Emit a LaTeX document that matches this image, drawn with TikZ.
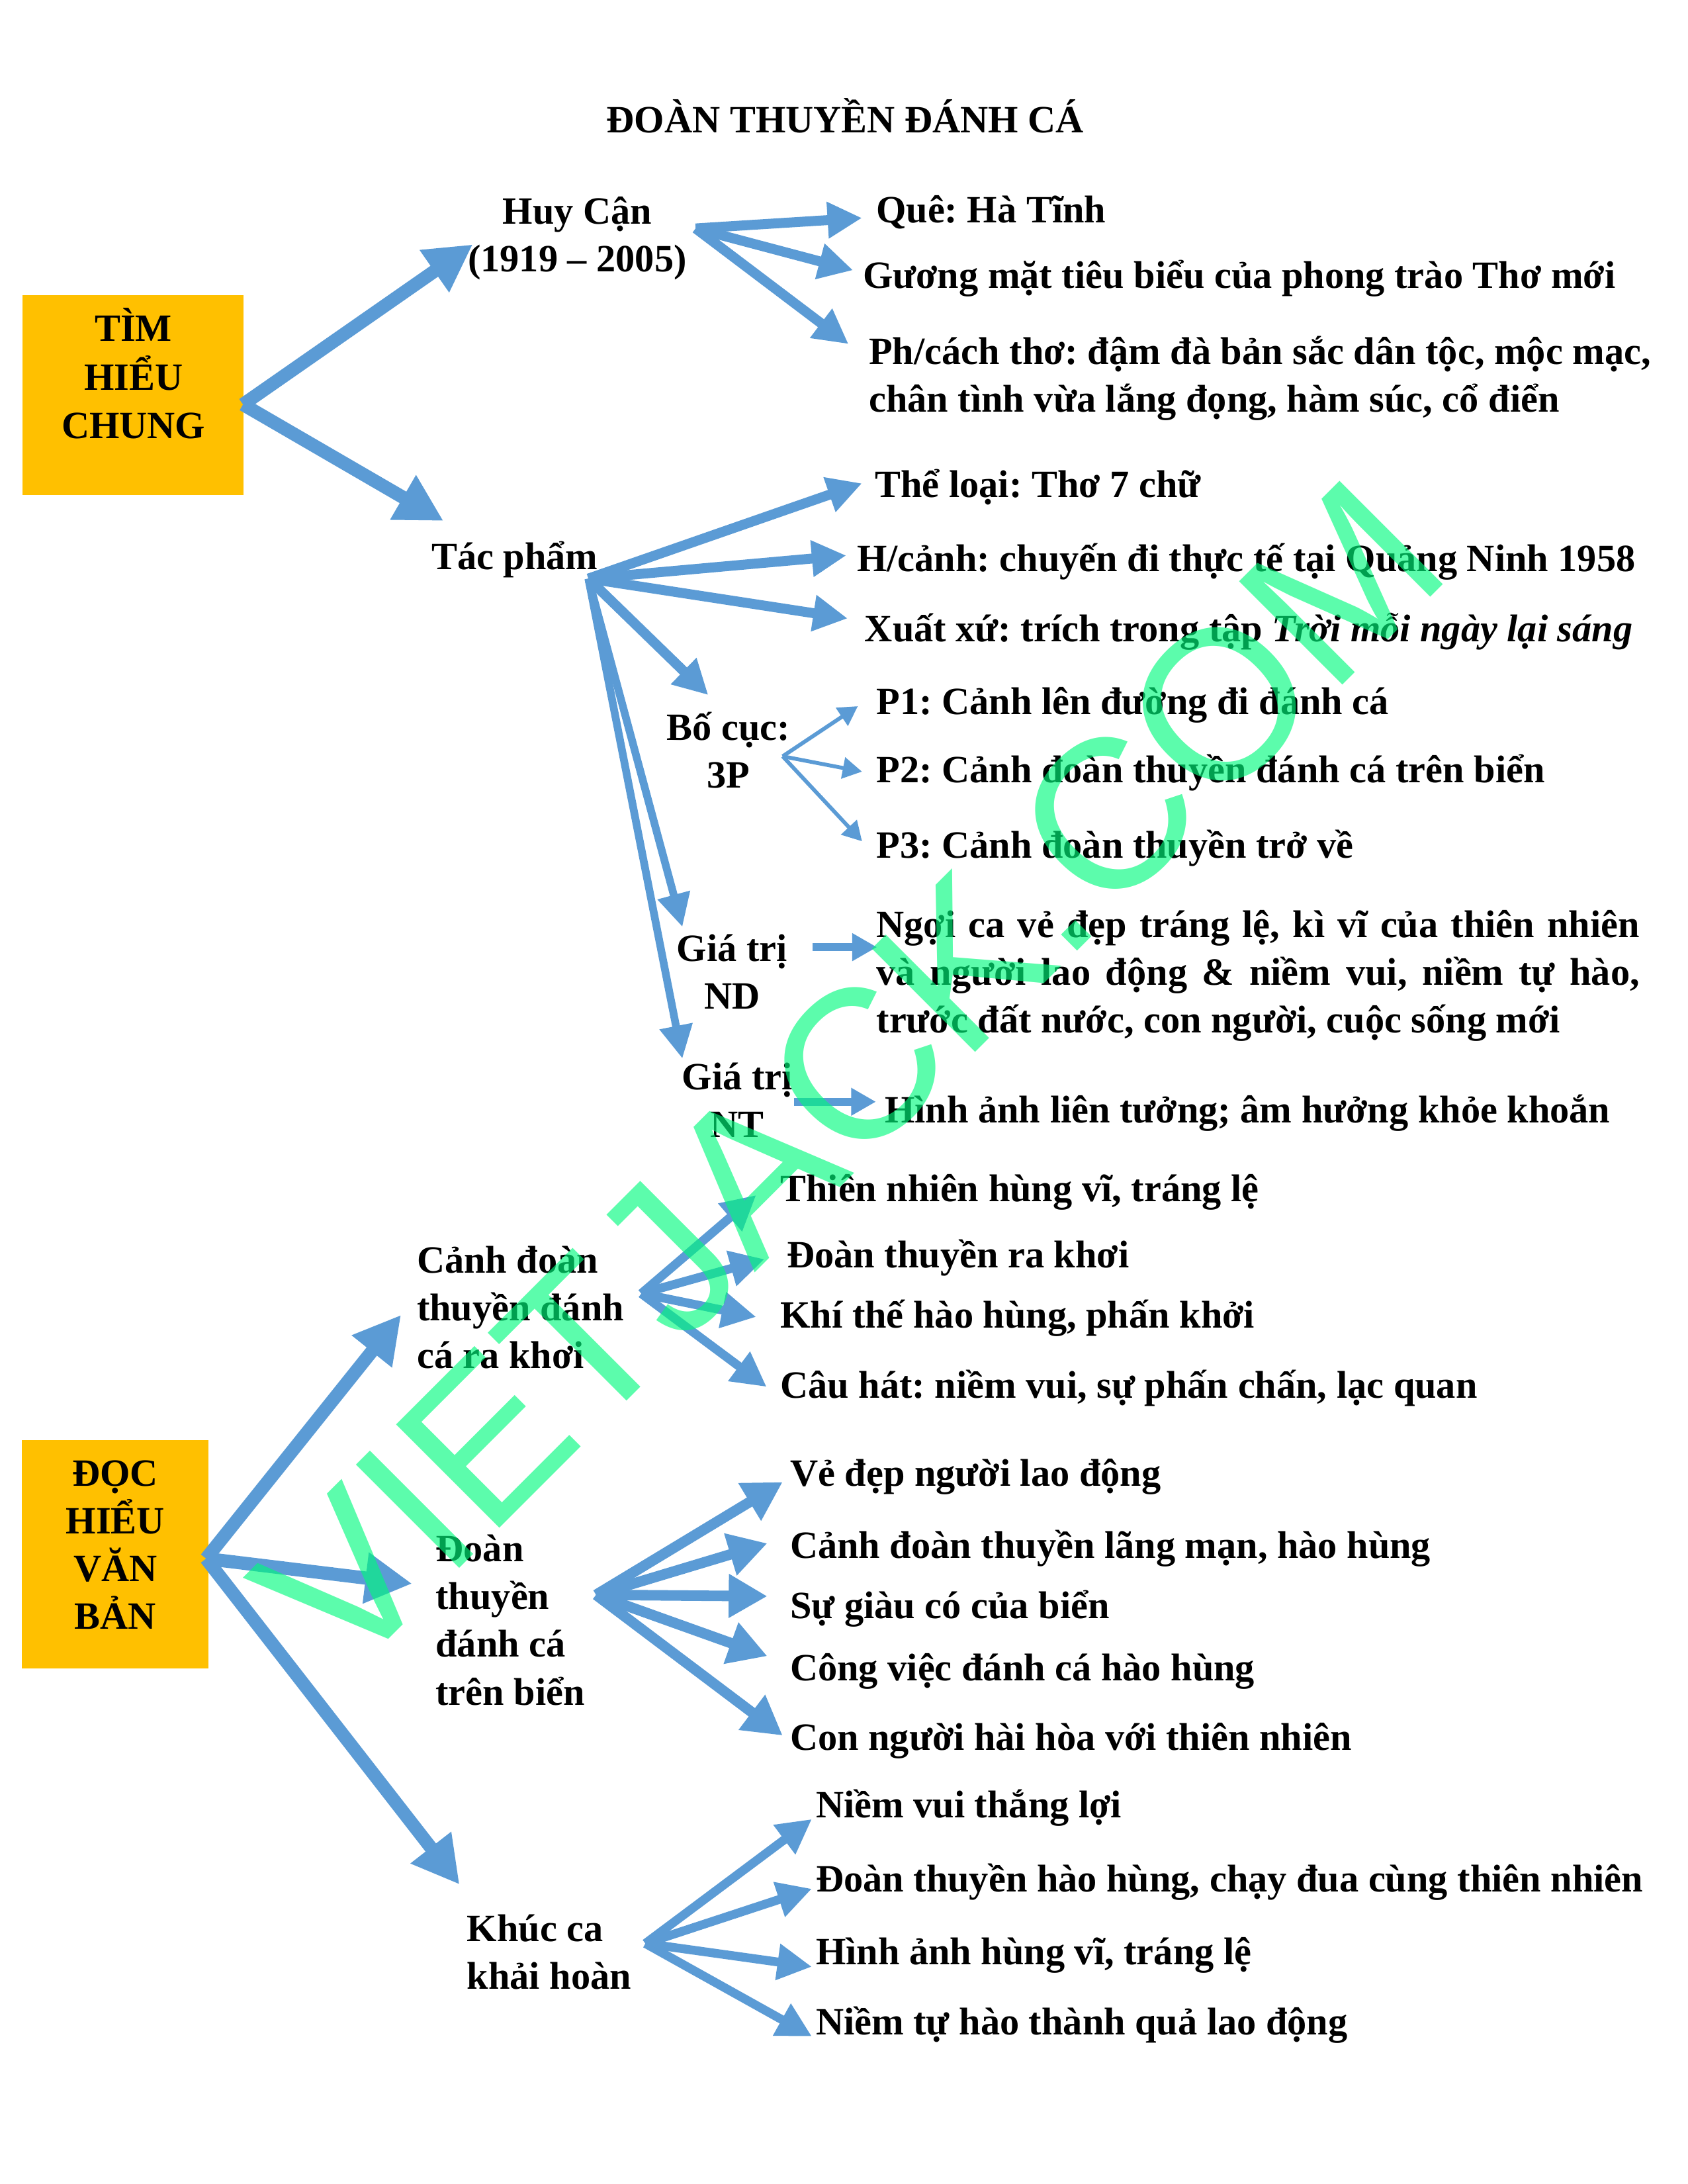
\documentclass[tikz,border=0pt]{standalone}
\usepackage{fontspec}
\setmainfont{Liberation Serif}
\newfontfamily\wmfont{Liberation Sans}
\usetikzlibrary{arrows.meta}
\definecolor{arrblue}{RGB}{91,155,213}
\definecolor{boxyel}{RGB}{255,192,0}
\definecolor{wmgreen}{RGB}{0,250,125}
\frenchspacing
\tikzset{
  txt/.style={font=\fontsize{14}{17.3}\selectfont\bfseries\frenchspacing, inner sep=0pt, anchor=base west, align=left},
  ctxt/.style={font=\fontsize{14}{17.3}\selectfont\bfseries\frenchspacing, inner sep=0pt, anchor=base, align=center},
  ybox/.style={fill=boxyel, draw=none, inner sep=0pt},
  arrA/.style={draw=arrblue, line width=4.8pt, -{Triangle[length=17pt,width=17.5pt]}},
  arrB/.style={draw=arrblue, line width=3.6pt, -{Triangle[length=12.5pt,width=12.5pt]}},
  arrDT/.style={draw=arrblue, line width=3.8pt, -{Triangle[length=14pt,width=15pt]}},
  arrC/.style={draw=arrblue, line width=3.2pt, -{Triangle[length=12.5pt,width=12.5pt]}},
  arrD/.style={draw=arrblue, line width=2.8pt, -{Triangle[length=12pt,width=11.5pt]}},
  arrE/.style={draw=arrblue, line width=2.8pt, -{Triangle[length=9pt,width=9.5pt]}},
  arrF/.style={draw=arrblue, line width=1.4pt, -{Triangle[length=7pt,width=7.6pt]}},
}
\begin{document}
\begin{tikzpicture}[x=0.50495pt, y=-0.50495pt]
\useasboundingbox (0,0) rectangle (1212,1568);

% title
\node[ctxt] (title) at (607,95.2) {ĐOÀN THUYỀN ĐÁNH CÁ};

% boxes
\node[ybox, minimum width=80.3pt, minimum height=72.5pt] (box1) at (95.5,283.8) {};
\node[ctxt, font=\fontsize{14}{17.6}\selectfont\bfseries] (box1t) at (95.8,314.8) {TÌM\\HIỂU\\CHUNG};
\node[ybox, minimum width=67.7pt, minimum height=82.9pt] (box2) at (82.75,1115.9) {};
\node[ctxt] (box2t) at (82.8,1169.7) {ĐỌC\\HIỂU\\VĂN\\BẢN};

% first section texts
\node[ctxt] (hc) at (414.5,195) {Huy Cận\\(1919 – 2005)};
\node[txt] (que) at (628.8,160) {Quê: Hà Tĩnh};
\node[txt] (guong) at (619.3,206.8) {Gương mặt tiêu biểu của phong trào Thơ mới};
\node[txt] (phc) at (623.6,296) {Ph/cách thơ: đậm đà bản sắc dân tộc, mộc mạc,\\chân tình vừa lắng đọng, hàm súc, cổ điển};
\node[txt] (tp) at (309.5,408.8) {Tác phẩm};
\node[txt] (tl) at (628,357) {Thể loại: Thơ 7 chữ};
\node[txt] (hcanh) at (615,410.5) {H/cảnh: chuyến đi thực tế tại Quảng Ninh 1958};
\node[txt] (xx) at (620.6,460.6) {Xuất xứ: trích trong tập \textit{Trời mỗi ngày lại sáng}};
\node[ctxt] (bc) at (523,565.6) {Bố cục:\\3P};
\node[txt] (p1) at (629,513) {P1: Cảnh lên đường đi đánh cá};
\node[txt] (p2) at (629,562) {P2: Cảnh đoàn thuyền đánh cá trên biển};
\node[txt] (p3) at (629,616) {P3: Cảnh đoàn thuyền trở về};
\node[ctxt] (gnd) at (525.7,724.4) {Giá trị\\ND};
\node[txt] (ndt) at (629,741.5) {\makebox[276.7pt][s]{Ngợi ca vẻ đẹp tráng lệ, kì vĩ của thiên nhiên}\\\makebox[276.7pt][s]{và người lao động \& niềm vui, niềm tự hào,}\\trước đất nước, con người, cuộc sống mới};
\node[ctxt] (gnt) at (529.5,816.5) {Giá trị\\NT};
\node[txt] (ntt) at (635,806) {Hình ảnh liên tưởng; âm hưởng khỏe khoắn};

% second section texts
\node[txt] (cd) at (299,982.3) {Cảnh đoàn\\thuyền đánh\\cá ra khơi};
\node[txt] (cd1) at (560,862.5) {Thiên nhiên hùng vĩ, tráng lệ};
\node[txt] (cd2) at (564.7,910) {Đoàn thuyền ra khơi};
\node[txt] (cd3) at (560,953.5) {Khí thế hào hùng, phấn khởi};
\node[txt] (cd4) at (560,1003.6) {Câu hát: niềm vui, sự phấn chấn, lạc quan};
\node[txt] (dt) at (312.5,1224) {Đoàn\\thuyền\\đánh cá\\trên biển};
\node[txt] (dt1) at (567,1067) {Vẻ đẹp người lao động};
\node[txt] (dt2) at (567,1118.8) {Cảnh đoàn thuyền lãng mạn, hào hùng};
\node[txt] (dt3) at (567,1162) {Sự giàu có của biển};
\node[txt] (dt4) at (567,1206.7) {Công việc đánh cá hào hùng};
\node[txt] (dt5) at (567,1256.7) {Con người hài hòa với thiên nhiên};
\node[txt] (kc) at (335,1428) {Khúc ca\\khải hoàn};
\node[txt] (kc1) at (585.5,1305) {Niềm vui thắng lợi};
\node[txt] (kc2) at (585.5,1358) {Đoàn thuyền hào hùng, chạy đua cùng thiên nhiên};
\node[txt] (kc3) at (585.5,1410.7) {Hình ảnh hùng vĩ, tráng lệ};
\node[txt] (kc4) at (585.5,1460.8) {Niềm tự hào thành quả lao động};

% connector end points
\coordinate (o1) at (174.5,290.4);
\coordinate (t-hc) at (339.5,175.5);
\coordinate (t-tp) at (318.5,374);
\coordinate (o-hc) at (499.5,164);
\coordinate (t-que) at (619,156.5);
\coordinate (t-guong) at (612.6,194);
\coordinate (t-phc) at (609.3,247);
\coordinate (o-tp) at (422.5,415.4);
\coordinate (t-tl) at (619,347);
\coordinate (t-hcanh) at (607.7,398.8);
\coordinate (t-xx) at (608.7,444);
\coordinate (t-bc) at (508.6,499);
\coordinate (t-gnd) at (490,665.5);
\coordinate (t-gnt) at (490,760);
\coordinate (o-bc) at (562,543);
\coordinate (t-p1) at (616,507);
\coordinate (t-p2) at (619,554);
\coordinate (t-p3) at (619,604);
\coordinate (o-nd) at (583.6,680);
\coordinate (t-nd) at (629.8,680);
\coordinate (o-nt) at (570,791);
\coordinate (t-nt) at (629,791);
\coordinate (o2) at (148,1119);
\coordinate (t-cd) at (288,944);
\coordinate (t-dt) at (296,1137);
\coordinate (t-kc) at (330,1353);
\coordinate (o-cd) at (460.5,928.7);
\coordinate (t-cd1) at (543,858);
\coordinate (t-cd2) at (549,904);
\coordinate (t-cd3) at (543,945.5);
\coordinate (t-cd4) at (550.5,995.7);
\coordinate (o-dt) at (428,1145);
\coordinate (t-dt1) at (562,1064);
\coordinate (t-dt2) at (551,1108);
\coordinate (t-dt3) at (551,1146);
\coordinate (t-dt4) at (551,1189);
\coordinate (t-dt5) at (562,1246);
\coordinate (o-kc) at (463.4,1395.3);
\coordinate (t-kc1) at (583,1306);
\coordinate (t-kc2) at (583,1356);
\coordinate (t-kc3) at (583,1412);
\coordinate (t-kc4) at (583,1462);

% connectors
\draw[arrA] (o1) -- (t-hc);
\draw[arrA] (o1) -- (t-tp);
\draw[arrB] (o-hc) -- (t-que);
\draw[arrB] (o-hc) -- (t-guong);
\draw[arrB] (o-hc) -- (t-phc);
\draw[arrB] (o-tp) -- (t-tl);
\draw[arrB] (o-tp) -- (t-hcanh);
\draw[arrB] (o-tp) -- (t-xx);
\draw[arrB] (o-tp) -- (t-bc);
\draw[arrD] (o-tp) -- (t-gnd);
\draw[arrD] (o-tp) -- (t-gnt);
\draw[arrF] (o-bc) -- (t-p1);
\draw[arrF] (o-bc) -- (t-p2);
\draw[arrF] (o-bc) -- (t-p3);
\draw[arrE] (o-nd) -- (t-nd);
\draw[arrE] (o-nt) -- (t-nt);
\draw[arrA] (o2) -- (t-cd);
\draw[arrA] (o2) -- (t-dt);
\draw[arrA] (o2) -- (t-kc);
\draw[arrC] (o-cd) -- (t-cd1);
\draw[arrC] (o-cd) -- (t-cd2);
\draw[arrC] (o-cd) -- (t-cd3);
\draw[arrC] (o-cd) -- (t-cd4);
\draw[arrDT] (o-dt) -- (t-dt1);
\draw[arrDT] (o-dt) -- (t-dt2);
\draw[arrDT] (o-dt) -- (t-dt3);
\draw[arrDT] (o-dt) -- (t-dt4);
\draw[arrDT] (o-dt) -- (t-dt5);
\draw[arrC] (o-kc) -- (t-kc1);
\draw[arrC] (o-kc) -- (t-kc2);
\draw[arrC] (o-kc) -- (t-kc3);
\draw[arrC] (o-kc) -- (t-kc4);

% watermark
\node[rotate=45, anchor=base west, inner sep=0pt, text=wmgreen, text opacity=0.64,
      font=\wmfont\fontsize{77}{77}\selectfont] (wm) at (248,1208) {VIETJACK.COM};
\end{tikzpicture}
\end{document}
